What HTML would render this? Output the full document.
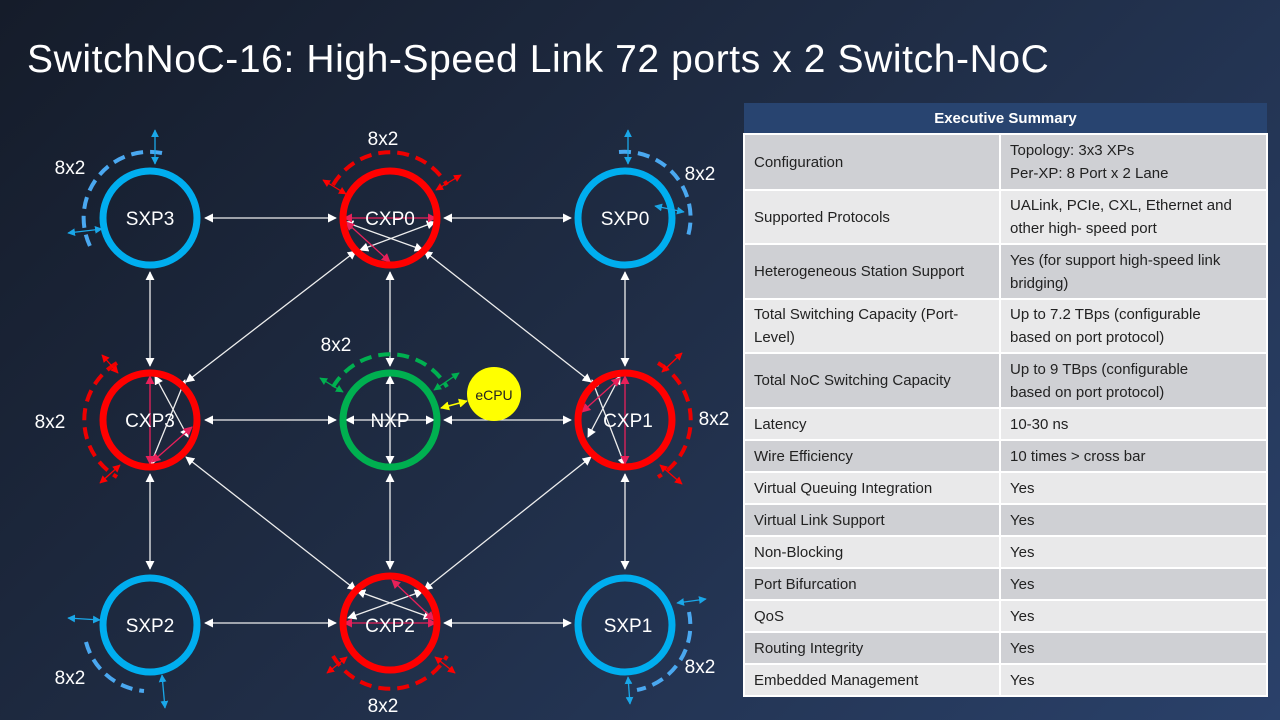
<!DOCTYPE html>
<html><head><meta charset="utf-8"><style>
body{margin:0;width:1280px;height:720px;overflow:hidden;font-family:"Liberation Sans",sans-serif;}
#bg{position:absolute;left:0;top:0;width:1280px;height:720px;background:linear-gradient(135deg,#151c2a 0%,#1f2c44 45%,#2a416a 100%);}
h1{position:absolute;left:27px;top:38px;margin:0;font-weight:normal;color:#fff;font-size:39px;letter-spacing:0.6px;white-space:nowrap;}
table{position:absolute;left:743px;top:103px;width:525px;border-collapse:collapse;font-size:15px;color:#222;}
td{border:2px solid #fff;padding:0 9px;line-height:23px;}
th{background:#284470;color:#fff;font-size:15px;height:28px;border:2px solid #fff;border-top:none;border-left:none;border-right:none;}
tr.d td{background:#cfd0d4}tr.l td{background:#e9e9ea}
td:first-child{width:236px}
</style></head><body><div id="bg"></div>
<h1>SwitchNoC-16: High-Speed Link 72 ports x 2 Switch-NoC</h1>
<svg width="1280" height="720" style="position:absolute;left:0;top:0">
<defs>
<marker id="w" viewBox="0 0 10 10" refX="9" refY="5" markerWidth="7" markerHeight="7" orient="auto-start-reverse"><path d="M0,0L10,5L0,10z" fill="#fff"/></marker>
<marker id="p" viewBox="0 0 10 10" refX="9" refY="5" markerWidth="7" markerHeight="7" orient="auto-start-reverse"><path d="M0,0L10,5L0,10z" fill="#e8205a"/></marker>
<marker id="r" viewBox="0 0 10 10" refX="9" refY="5" markerWidth="6" markerHeight="6" orient="auto-start-reverse"><path d="M0,0L10,5L0,10z" fill="#f00"/></marker>
<marker id="b" viewBox="0 0 10 10" refX="9" refY="5" markerWidth="6" markerHeight="6" orient="auto-start-reverse"><path d="M0,0L10,5L0,10z" fill="#1aa7e8"/></marker>
<marker id="g" viewBox="0 0 10 10" refX="9" refY="5" markerWidth="6" markerHeight="6" orient="auto-start-reverse"><path d="M0,0L10,5L0,10z" fill="#00b050"/></marker>
<marker id="y" viewBox="0 0 10 10" refX="9" refY="5" markerWidth="6" markerHeight="6" orient="auto-start-reverse"><path d="M0,0L10,5L0,10z" fill="#ff0"/></marker>
</defs>
<g stroke="#eee" stroke-width="1.3" marker-start="url(#w)" marker-end="url(#w)" fill="none">
<line x1="205" y1="218" x2="336" y2="218"/><line x1="444" y1="218" x2="571" y2="218"/>
<line x1="205" y1="420" x2="336" y2="420"/><line x1="444" y1="420" x2="571" y2="420"/>
<line x1="205" y1="623" x2="336" y2="623"/><line x1="444" y1="623" x2="571" y2="623"/>
<line x1="150" y1="272" x2="150" y2="366"/><line x1="150" y1="474" x2="150" y2="569"/>
<line x1="390" y1="272" x2="390" y2="366"/><line x1="390" y1="474" x2="390" y2="569"/>
<line x1="625" y1="272" x2="625" y2="366"/><line x1="625" y1="474" x2="625" y2="569"/>
<line x1="356" y1="251" x2="186" y2="382"/><line x1="424" y1="251" x2="591" y2="382"/>
<line x1="186" y1="457" x2="356" y2="590"/><line x1="591" y1="457" x2="424" y2="590"/>
<line x1="345" y1="222" x2="423" y2="250"/><line x1="435" y1="222" x2="360" y2="250"/>
<line x1="155" y1="376" x2="188" y2="437"/><line x1="150" y1="466" x2="185" y2="380"/>
<line x1="620" y1="376" x2="588" y2="437"/><line x1="625" y1="466" x2="592" y2="380"/>
<line x1="357" y1="591" x2="432" y2="618"/><line x1="423" y1="591" x2="348" y2="618"/>
<line x1="390" y1="376" x2="390" y2="464"/><line x1="346" y1="420" x2="434" y2="420"/>
</g>
<g stroke="#e8205a" stroke-width="1.3" marker-start="url(#p)" marker-end="url(#p)">
<line x1="344" y1="218" x2="436" y2="218"/><line x1="346" y1="222" x2="390" y2="262"/>
<line x1="150" y1="376" x2="150" y2="464"/><line x1="152" y1="462" x2="192" y2="427"/>
<line x1="625" y1="376" x2="625" y2="464"/><line x1="620" y1="378" x2="582" y2="412"/>
<line x1="344" y1="623" x2="436" y2="623"/><line x1="434" y1="620" x2="392" y2="580"/>
</g>
<g fill="none" stroke-width="7">
<circle cx="150" cy="218" r="47" stroke="#00aeef"/><circle cx="625" cy="218" r="47" stroke="#00aeef"/>
<circle cx="150" cy="625" r="47" stroke="#00aeef"/><circle cx="625" cy="625" r="47" stroke="#00aeef"/>
<circle cx="390" cy="218" r="47" stroke="#f00"/><circle cx="150" cy="420" r="47" stroke="#f00"/>
<circle cx="625" cy="420" r="47" stroke="#f00"/><circle cx="390" cy="623" r="47" stroke="#f00"/>
<circle cx="390" cy="420" r="47" stroke="#00b050"/>
</g>
<g fill="none" stroke-width="4" stroke-dasharray="12,7">
<path d="M162,153 A66,66 0 0 0 92,250" stroke="#4aa8f0"/>
<path d="M619,152 A66,66 0 0 1 688,236" stroke="#4aa8f0"/>
<path d="M86,642 A66,66 0 0 0 144,691" stroke="#4aa8f0"/>
<path d="M689,612 A66,66 0 0 1 637,690" stroke="#4aa8f0"/>
<path d="M333,185 A66,66 0 0 1 447,185" stroke="#e00"/>
<path d="M117,363 A66,66 0 0 0 117,477" stroke="#e00"/>
<path d="M658,363 A66,66 0 0 1 658,477" stroke="#e00"/>
<path d="M333,656 A66,66 0 0 0 447,656" stroke="#e00"/>
<path d="M333,387 A66,66 0 0 1 447,387" stroke="#00b050"/>
</g>
<g stroke="#1aa7e8" stroke-width="1.3" marker-start="url(#b)" marker-end="url(#b)">
<line x1="155" y1="130" x2="155" y2="164"/><line x1="68" y1="233" x2="102" y2="229"/>
<line x1="628" y1="130" x2="628" y2="164"/><line x1="655" y1="206" x2="684" y2="212"/>
<line x1="68" y1="618" x2="100" y2="620"/><line x1="165" y1="708" x2="162" y2="675"/>
<line x1="677" y1="603" x2="706" y2="599"/><line x1="628" y1="677" x2="630" y2="704"/>
</g>
<g stroke="#f00" stroke-width="1.3" marker-start="url(#r)" marker-end="url(#r)">
<line x1="323" y1="180" x2="346" y2="194"/><line x1="461" y1="175" x2="436" y2="190"/>
<line x1="102" y1="355" x2="118" y2="373"/><line x1="100" y1="483" x2="120" y2="465"/>
<line x1="682" y1="353" x2="662" y2="372"/><line x1="682" y1="484" x2="660" y2="465"/>
<line x1="327" y1="673" x2="347" y2="657"/><line x1="455" y1="673" x2="435" y2="657"/>
</g>
<g stroke="#00b050" stroke-width="1.3" marker-start="url(#g)" marker-end="url(#g)">
<line x1="320" y1="378" x2="343" y2="392"/><line x1="459" y1="373" x2="434" y2="390"/>
</g>
<line x1="441" y1="408" x2="467" y2="401" stroke="#ff0" stroke-width="1.5" marker-start="url(#y)" marker-end="url(#y)"/>
<circle cx="494" cy="394" r="27" fill="#ff0"/>
<g fill="#fff" font-size="19" text-anchor="middle" font-family="Liberation Sans,sans-serif">
<text x="150" y="225">SXP3</text><text x="390" y="225">CXP0</text><text x="625" y="225">SXP0</text>
<text x="150" y="427">CXP3</text><text x="390" y="427">NXP</text><text x="628" y="427">CXP1</text>
<text x="150" y="632">SXP2</text><text x="390" y="632">CXP2</text><text x="628" y="632">SXP1</text>
</g>
<text x="494" y="400" font-size="14" text-anchor="middle" fill="#222">eCPU</text>
<g fill="#fff" font-size="19" text-anchor="middle">
<text x="70" y="174">8x2</text><text x="383" y="145">8x2</text><text x="700" y="180">8x2</text>
<text x="336" y="351">8x2</text><text x="50" y="428">8x2</text><text x="714" y="425">8x2</text>
<text x="70" y="684">8x2</text><text x="383" y="712">8x2</text><text x="700" y="673">8x2</text>
</g>
</svg>
<table>
<tr><th colspan="2">Executive Summary</th></tr>
<tr class="d" style="height:56px"><td>Configuration</td><td>Topology: 3x3 XPs<br>Per-XP: 8 Port x 2 Lane</td></tr>
<tr class="l" style="height:54px"><td>Supported Protocols</td><td>UALink, PCIe, CXL, Ethernet and other high- speed port</td></tr>
<tr class="d" style="height:55px"><td>Heterogeneous Station Support</td><td>Yes (for support high-speed link bridging)</td></tr>
<tr class="l" style="height:54px"><td>Total Switching Capacity (Port-Level)</td><td>Up to 7.2 TBps (configurable<br>based on port protocol)</td></tr>
<tr class="d" style="height:55px"><td>Total NoC Switching Capacity</td><td>Up to 9 TBps (configurable<br>based on port protocol)</td></tr>
<tr class="l" style="height:32px"><td>Latency</td><td>10-30 ns</td></tr>
<tr class="d" style="height:32px"><td>Wire Efficiency</td><td>10 times &gt; cross bar</td></tr>
<tr class="l" style="height:32px"><td>Virtual Queuing Integration</td><td>Yes</td></tr>
<tr class="d" style="height:32px"><td>Virtual Link Support</td><td>Yes</td></tr>
<tr class="l" style="height:32px"><td>Non-Blocking</td><td>Yes</td></tr>
<tr class="d" style="height:32px"><td>Port Bifurcation</td><td>Yes</td></tr>
<tr class="l" style="height:32px"><td>QoS</td><td>Yes</td></tr>
<tr class="d" style="height:32px"><td>Routing Integrity</td><td>Yes</td></tr>
<tr class="l" style="height:32px"><td>Embedded Management</td><td>Yes</td></tr>
</table>
</body></html>
